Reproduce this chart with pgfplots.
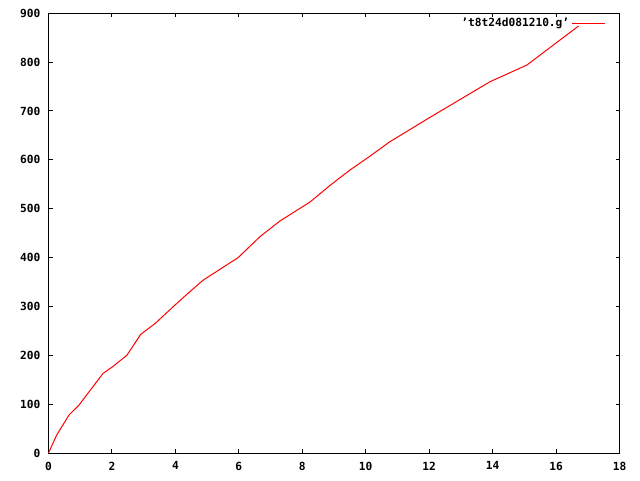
\documentclass[border=0pt]{standalone}
\usepackage{pgfplots}
\pgfplotsset{compat=1.18}
\usepackage{fontspec}
\setmainfont{DejaVu Sans Mono}
\begin{document}
\begin{tikzpicture}[x=0.75pt,y=0.75pt]
\path[use as bounding box, fill=white] (0,0) rectangle (640,480);
\begin{axis}[
  at={(48.5pt*0.75,27pt*0.75)}, anchor=south west,
  scale only axis,
  width=428.25pt, height=329.8pt,
  xmin=0, xmax=18, ymin=0, ymax=900,
  xtick={0,2,...,18}, ytick={0,100,...,900},
  tick align=inside, major tick length=3pt,
  tick style={line width=0.75pt, black},
  axis line style={line width=0.75pt},
  /pgf/number format/assume math mode=true,
  tick label style={font=\fontsize{8.4}{10}\selectfont\bfseries},
  yticklabel style={xshift=-2.5pt},
  xticklabel style={yshift=-3pt},
  legend style={draw=none, fill=none, at={(1,1)}, anchor=north east,
    xshift=-7pt, yshift=0.3pt, font=\fontsize{8.4}{10}\selectfont\bfseries,
    legend cell align=right},
  legend plot pos=right,
  legend image code/.code={\draw[#1] (0pt,0pt) -- (24.75pt,0pt);},
]
\addplot[red, line width=0.75pt] coordinates {
(0,0) (0.26,37) (0.65,78) (0.96,98) (1.72,163) (2.03,177) (2.47,200)
(2.91,243) (3.36,265) (3.94,300) (4.4,327) (4.88,354) (5.98,400)
(6.67,443) (7.3,475) (8.25,514) (8.88,548) (9.5,579) (10.1,606) (10.76,637)
(12,686) (13.92,760) (15.08,794) (16.71,874)
};
\addlegendentry{'t8t24d081210.g'}
\end{axis}
\end{tikzpicture}
\end{document}
